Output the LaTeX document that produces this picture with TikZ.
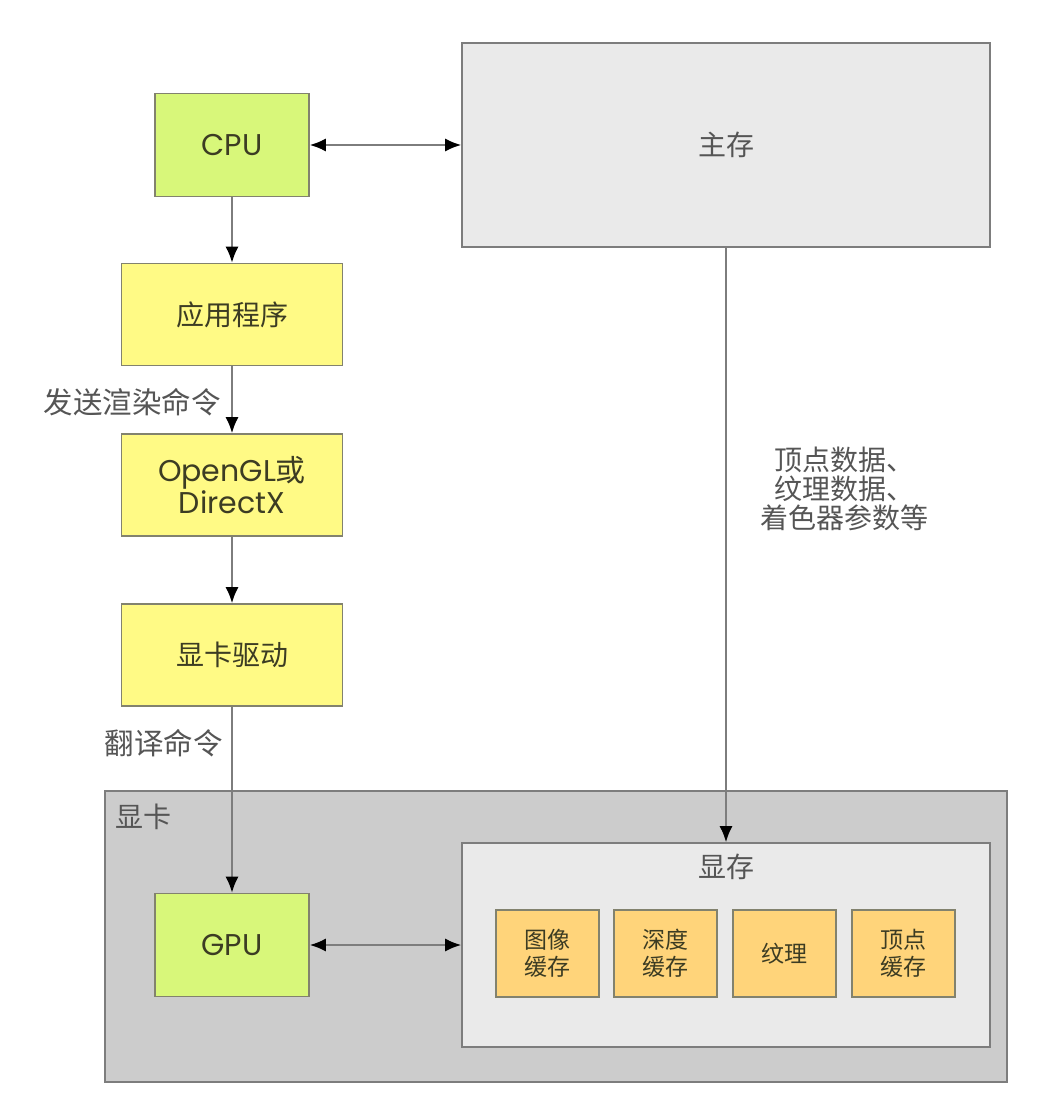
\documentclass[tikz,border=0pt]{standalone}
\usepackage{fontspec}
\setmainfont{Poppins}
\newfontfamily\cjk{Noto Sans CJK SC}
\usetikzlibrary{arrows.meta}
\definecolor{cpugreen}{RGB}{216,247,122}
\definecolor{appyellow}{RGB}{255,250,133}
\definecolor{buforange}{RGB}{255,212,122}
\definecolor{memgray}{RGB}{234,234,234}
\definecolor{cardgray}{RGB}{204,204,204}
\definecolor{boxline}{RGB}{130,130,110}
\definecolor{grayline}{RGB}{125,125,125}
\definecolor{txtdark}{RGB}{60,60,35}
\definecolor{txtgray}{RGB}{85,85,85}
\begin{document}
\begin{tikzpicture}[x=1pt,y=-1pt,
  basebox/.style={rectangle,draw=boxline,line width=1.6pt,inner sep=0pt,align=center,text=txtdark},
  procbox/.style={basebox,fill=cpugreen,minimum width=154pt,minimum height=103pt,font=\fontsize{30}{27}\selectfont},
  swbox/.style={basebox,fill=appyellow,minimum width=221pt,minimum height=102pt,font=\fontsize{30}{27}\selectfont},
  membox/.style={basebox,draw=grayline,fill=memgray,minimum width=528pt,minimum height=204pt,text=txtgray,font=\cjk\fontsize{28}{29}\selectfont},
  bufbox/.style={basebox,draw=boxline,fill=buforange,minimum width=103pt,minimum height=87pt,font=\cjk\fontsize{23}{27}\selectfont},
  lbl/.style={inner sep=0pt,text=txtgray,font=\cjk\fontsize{28}{29}\selectfont,align=center},
  conn/.style={draw=grayline,line width=1.8pt,-{Latex[length=16pt,width=13pt,color=black]}},
  biconn/.style={draw=grayline,line width=1.8pt,{Latex[length=16pt,width=13pt,color=black]}-{Latex[length=16pt,width=13pt,color=black]}}
]
\useasboundingbox[fill=white] (0,0) rectangle (1052,1102);

% graphics card container
\node[basebox,draw=grayline,fill=cardgray,minimum width=902pt,minimum height=291pt] (card) at (556,936.5) {};
\node[lbl,anchor=west] (cardlbl) at (115,817) {显卡};

% main column
\node[procbox] (cpu) at (232,145) {CPU};
\node[membox] (main) at (726,145) {主存};
\node[swbox,font=\cjk\fontsize{28}{29}\selectfont] (app) at (232,314.5) {应用程序};
\node[swbox] (api) at (232,485) {OpenGL{\cjk 或}\\DirectX};
\node[swbox,font=\cjk\fontsize{28}{29}\selectfont] (drv) at (232,655) {显卡驱动};
\node[procbox] (gpu) at (232,945) {GPU};

% video memory
\node[membox] (vram) at (726,945) {};
\node[lbl] (vramlbl) at (726,867) {显存};
\node[bufbox] (b1) at (547.5,953.5) {图像\\缓存};
\node[bufbox] (b2) at (665.5,953.5) {深度\\缓存};
\node[bufbox] (b3) at (784.5,953.5) {纹理};
\node[bufbox] (b4) at (903.5,953.5) {顶点\\缓存};

% connector labels
\node[lbl,anchor=east,font=\cjk\fontsize{29.5}{29}\selectfont] (sendlbl) at (221,402) {发送渲染命令};
\node[lbl,anchor=east,font=\cjk\fontsize{29.5}{29}\selectfont] (translbl) at (223,743) {翻译命令};
\node[lbl] (datalbl) at (844,489) {顶点数据、\\纹理数据、\\着色器参数等};

% connectors
\draw[biconn] (cpu.east) -- (main.west);
\draw[conn] (cpu.south) -- (app.north);
\draw[conn] (app.south) -- (api.north);
\draw[conn] (api.south) -- (drv.north);
\draw[conn] (drv.south) -- (gpu.north);
\draw[conn] (main.south) -- (vram.north);
\draw[biconn] (gpu.east) -- (vram.west);
\end{tikzpicture}
\end{document}
